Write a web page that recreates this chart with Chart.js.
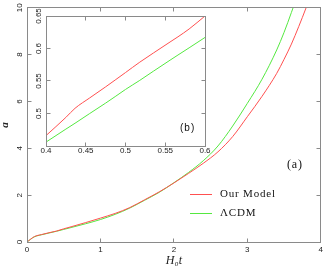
<!DOCTYPE html>
<html>
<head>
<meta charset="utf-8">
<script src="https://cdn.jsdelivr.net/npm/chart.js@4.4.1/dist/chart.umd.min.js"></script>
<style>
  body { margin: 0; background: #fff; }
  #wrap { position: relative; width: 326px; height: 269px; }
  #main { position: absolute; left: 0; top: 0; }
  #inset { position: absolute; left: 28px; top: 2px; }
</style>
</head>
<body>
<div id="wrap">
  <canvas id="main" width="326" height="269"></canvas>
  <canvas id="inset" width="190" height="160"></canvas>
</div>
<script>
// Main panel (a): scale factor a vs H0 t
const times = [0, 0.1, 0.2, 0.3, 0.4, 0.5, 0.6, 0.8, 1.0, 1.2, 1.4, 1.6, 1.8, 2.0, 2.2, 2.4, 2.6, 2.8, 3.0, 3.2, 3.4, 3.5, 3.6, 3.7, 3.8, 3.9];
const ourModel = [0, 0.23, 0.32, 0.395, 0.466, 0.563, 0.65, 0.83, 1.02, 1.22, 1.47, 1.8, 2.14, 2.52, 2.93, 3.36, 3.85, 4.5, 5.35, 6.22, 7.2, 7.8, 8.45, 9.2, 10.0, 10.85];
const lcdm = [0, 0.22, 0.31, 0.385, 0.456, 0.537, 0.617, 0.78, 0.96, 1.18, 1.45, 1.78, 2.12, 2.53, 2.97, 3.47, 4.1, 4.95, 5.92, 6.95, 8.2, 8.95, 9.8, 10.7, 11.7, 12.8];

// Inset panel (b): zoom on 0.4 < H0 t < 0.6
const insetTimes = [0.4, 0.425, 0.4365, 0.455, 0.475, 0.487, 0.5, 0.518, 0.535, 0.556, 0.566, 0.58, 0.6];
const insetModel = [0.466, 0.494, 0.508, 0.524, 0.541, 0.5515, 0.563, 0.579, 0.593, 0.610, 0.618, 0.63, 0.65];
const insetLcdm = [0.456, 0.476, 0.485, 0.500, 0.516, 0.526, 0.537, 0.551, 0.565, 0.582, 0.590, 0.601, 0.617];

const xTicksMain = [0, 1, 2, 3, 4];
const yTicksMain = [0, 2, 4, 6, 8, 10];
const xTicksInset = [0.4, 0.45, 0.5, 0.55, 0.6];
const yTicksInset = [0.45, 0.5, 0.55, 0.6, 0.65];
const legendNames = ["Our Model", "\u039BCDM"];

const RED = "#ff5050";
const GREEN = "#55e840";

const toPoints = (xs, ys) => xs.map((x, i) => ({ x: x, y: ys[i] }));

// frame + inward ticks on all sides
const framePlugin = {
    id: "frame",
    afterDraw(chart, args, opts) {
        const { ctx, chartArea: a, scales } = chart;
        const px = v => Math.floor(v) + 0.5;
        const L = px(a.left), R = px(a.right), T = px(a.top), B = px(a.bottom);
        const len = opts.len || 4;
        ctx.save();
        ctx.strokeStyle = "#8a8a8a";
        ctx.lineWidth = 1;
        ctx.strokeRect(L, T, R - L, B - T);
        ctx.beginPath();
        scales.x.ticks.forEach(t => {
            const p = px(scales.x.getPixelForValue(t.value));
            ctx.moveTo(p, B); ctx.lineTo(p, B - len);
            ctx.moveTo(p, T); ctx.lineTo(p, T + len);
        });
        scales.y.ticks.forEach(t => {
            const p = px(scales.y.getPixelForValue(t.value));
            ctx.moveTo(L, p); ctx.lineTo(L + len, p);
            ctx.moveTo(R, p); ctx.lineTo(R - len, p);
        });
        ctx.stroke();
        ctx.restore();
    }
};

// legend and panel labels for (a)
const mainLabels = {
    id: "mainLabels",
    afterDraw(chart) {
        const ctx = chart.ctx;
        const colors = [RED, GREEN];
        ctx.save();
        ctx.font = "11px 'Liberation Serif'";
        ctx.letterSpacing = "0.8px";
        ctx.textBaseline = "middle";
        legendNames.forEach((name, i) => {
            const y = 194.5 + i * 19;
            ctx.strokeStyle = colors[i];
            ctx.lineWidth = 1;
            ctx.beginPath();
            ctx.moveTo(190, y); ctx.lineTo(212, y);
            ctx.stroke();
            ctx.fillStyle = "#111";
            ctx.fillText(name, 220, y);
        });
        ctx.font = "12px 'Liberation Serif'";
        ctx.fillText("(a)", 287, 165);
        ctx.restore();
    }
};

const insetLabels = {
    id: "insetLabels",
    afterDraw(chart) {
        const ctx = chart.ctx;
        ctx.save();
        ctx.font = "10px 'Liberation Sans'";
        ctx.letterSpacing = "1px";
        ctx.fillStyle = "#111";
        ctx.textBaseline = "middle";
        ctx.fillText("(b)", 152, 126);
        ctx.restore();
    }
};

const lineSet = (label, data, color) => ({
    label: label,
    data: data,
    borderColor: color,
    borderWidth: 1,
    pointRadius: 0,
    fill: false,
    cubicInterpolationMode: "monotone"
});

Chart.defaults.font.family = "'Liberation Sans', Arial, sans-serif";
Chart.defaults.color = "#222";

new Chart(document.getElementById("main"), {
    type: "line",
    data: {
        datasets: [
            lineSet(legendNames[0], toPoints(times, ourModel), RED),
            lineSet(legendNames[1], toPoints(times, lcdm), GREEN)
        ]
    },
    options: {
        responsive: false,
        animation: false,
        devicePixelRatio: 1,
        layout: { padding: { top: 4, right: 3, left: 0, bottom: 0 } },
        plugins: { legend: { display: false }, tooltip: { enabled: false }, frame: { len: 4 } },
        scales: {
            x: {
                type: "linear", min: 0, max: 4,
                afterBuildTicks: s => { s.ticks = xTicksMain.map(v => ({ value: v })); },
                afterFit: s => { s.height = 27; },
                grid: { display: false, drawTicks: false },
                border: { display: false },
                ticks: { font: { size: 8 }, padding: 3, maxRotation: 0 },
                title: { display: true, text: "H\u2080t", padding: { top: 0, bottom: 1 },
                         font: { family: "'Liberation Serif'", style: "italic", size: 12 } }
            },
            y: {
                type: "linear", min: 0, max: 10,
                afterBuildTicks: s => { s.ticks = yTicksMain.map(v => ({ value: v })); },
                afterFit: s => { s.width = 27; },
                grid: { display: false, drawTicks: false },
                border: { display: false },
                ticks: { font: { size: 8 }, padding: 3, minRotation: 90, maxRotation: 90, crossAlign: "center" },
                title: { display: true, text: "a", padding: { top: 0, bottom: 0 },
                         font: { family: "'Liberation Serif'", style: "italic", weight: "bold", size: 11, lineHeight: 1 } }
            }
        }
    },
    plugins: [framePlugin, mainLabels]
});

new Chart(document.getElementById("inset"), {
    type: "line",
    data: {
        datasets: [
            lineSet(legendNames[0], toPoints(insetTimes, insetModel), RED),
            lineSet(legendNames[1], toPoints(insetTimes, insetLcdm), GREEN)
        ]
    },
    options: {
        responsive: false,
        animation: false,
        devicePixelRatio: 1,
        layout: { padding: { top: 14, right: 13, left: 0, bottom: 0 } },
        plugins: { legend: { display: false }, tooltip: { enabled: false }, frame: { len: 4 } },
        scales: {
            x: {
                type: "linear", min: 0.4, max: 0.6,
                afterBuildTicks: s => { s.ticks = xTicksInset.map(v => ({ value: v })); },
                afterFit: s => { s.height = 16; },
                grid: { display: false, drawTicks: false },
                border: { display: false },
                ticks: { font: { size: 8 }, padding: 0, maxRotation: 0, callback: v => String(+v.toFixed(2)) }
            },
            y: {
                type: "linear", min: 0.45, max: 0.65,
                afterBuildTicks: s => { s.ticks = yTicksInset.map(v => ({ value: v })); },
                afterFit: s => { s.width = 18; },
                grid: { display: false, drawTicks: false },
                border: { display: false },
                ticks: { font: { size: 8 }, padding: -1, minRotation: 90, maxRotation: 90, crossAlign: "center",
                         callback: v => (Math.abs(v - 0.45) < 1e-6 ? "" : String(+v.toFixed(2))) }
            }
        }
    },
    plugins: [framePlugin, insetLabels]
});
</script>
</body>
</html>
